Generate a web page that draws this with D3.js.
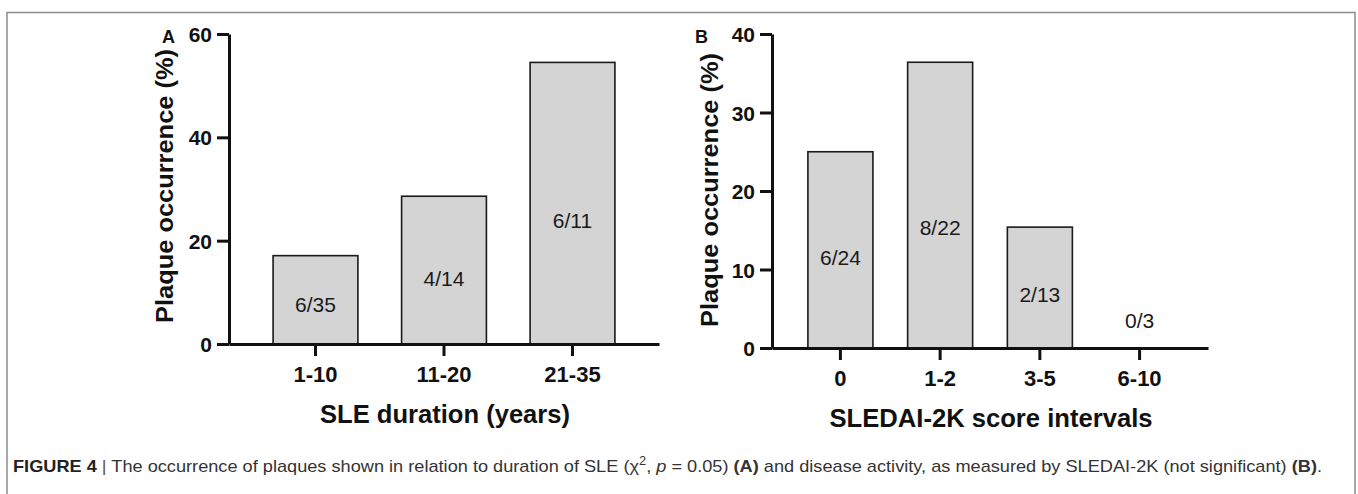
<!DOCTYPE html>
<html>
<head>
<meta charset="utf-8">
<script src="https://cdn.jsdelivr.net/npm/d3@7"></script>
<style>
  body { margin: 0; background: #fff; }
  svg { display: block; }
  text { font-family: "Liberation Sans", Arial, Helvetica, sans-serif; }
</style>
</head>
<body>
<svg width="1358" height="494"></svg>
<script>
// panel A: SLE duration
var groupsA = ["1-10", "11-20", "21-35"];
var occurrenceA = [17.1, 28.6, 54.5];
var countsA = ["6/35", "4/14", "6/11"];
var labelLevelA = [6.2, 11.2, 22.5];   // where the count label sits (% units)
var ticksA = [0, 20, 40, 60];

// panel B: SLEDAI-2K
var groupsB = ["0", "1-2", "3-5", "6-10"];
var occurrenceB = [25, 36.4, 15.4, 0];
var countsB = ["6/24", "8/22", "2/13", "0/3"];
var labelLevelB = [10.6, 14.4, 5.9, 2.5];
var ticksB = [0, 10, 20, 30, 40];

var svg = d3.select("svg");

// figure frame (open at the bottom)
svg.append("path")
  .attr("d", "M7,500 V12.5 H1355 V500")
  .attr("fill", "none")
  .attr("stroke", "#8c8c8c")
  .attr("stroke-width", 1.5);

function drawPanel(p) {
  var data = p.groups.map(function(g, i) {
    return { g: g, v: p.values[i], c: p.counts[i], l: p.levels[i] };
  });

  var x = d3.scaleBand()
    .domain(p.groups)
    .range([p.x0, p.x1])
    .paddingInner(p.pi)
    .paddingOuter(p.po);

  var y = d3.scaleLinear()
    .domain([0, d3.max(p.ticks)])
    .range([p.y0, p.y1]);

  var g = svg.append("g");

  // bars
  g.selectAll("rect.bar")
    .data(data.filter(function(d) { return d.v > 0; }))
    .enter().append("rect")
    .attr("class", "bar")
    .attr("x", function(d) { return x(d.g); })
    .attr("y", function(d) { return y(d.v); })
    .attr("width", x.bandwidth())
    .attr("height", function(d) { return y(0) - y(d.v); })
    .attr("fill", "#d4d4d4")
    .attr("stroke", "#1a1a1a")
    .attr("stroke-width", 1.6);

  // count labels
  g.selectAll("text.cnt")
    .data(data)
    .enter().append("text")
    .attr("class", "cnt")
    .attr("x", function(d) { return x(d.g) + x.bandwidth() / 2; })
    .attr("y", function(d) { return y(d.l); })
    .attr("text-anchor", "middle")
    .style("font-size", "21px")
    .style("fill", "#1a1a1a")
    .text(function(d) { return d.c; });

  // y axis
  var yAxis = g.append("g")
    .attr("transform", "translate(" + p.x0 + ",0)")
    .call(d3.axisLeft(y).tickValues(p.ticks).tickSize(12).tickPadding(5).tickSizeOuter(0));
  yAxis.select(".domain").attr("stroke", "#111").attr("stroke-width", 3);
  yAxis.selectAll(".tick line").attr("stroke", "#111").attr("stroke-width", 3);
  yAxis.selectAll(".tick text")
    .attr("dy", "0.36em")
    .style("font-size", "21px")
    .style("font-weight", "bold")
    .style("fill", "#111")
    .style("font-family", "'Liberation Sans', Arial, sans-serif");

  // x axis
  var xAxis = g.append("g")
    .attr("transform", "translate(0," + p.y0 + ")")
    .call(d3.axisBottom(x).tickSize(12).tickPadding(10).tickSizeOuter(0));
  xAxis.select(".domain").attr("stroke", "#111").attr("stroke-width", 3);
  xAxis.selectAll(".tick line").attr("stroke", "#111").attr("stroke-width", 3);
  xAxis.selectAll(".tick text")
    .style("font-size", "22px")
    .style("font-weight", "bold")
    .style("fill", "#111")
    .style("font-family", "'Liberation Sans', Arial, sans-serif");

  // panel letter
  g.append("text")
    .attr("x", p.letterX)
    .attr("y", 43)
    .style("font-size", "18px")
    .style("font-weight", "bold")
    .style("fill", "#111")
    .text(p.letter);

  // y title
  g.append("text")
    .attr("transform", "translate(" + p.yTitleX + "," + p.yTitleY + ") rotate(-90)")
    .attr("text-anchor", "middle")
    .attr("textLength", p.yTitleLen)
    .attr("lengthAdjust", "spacingAndGlyphs")
    .style("font-size", "24px")
    .style("font-weight", "bold")
    .style("fill", "#111")
    .text("Plaque occurrence (%)");

  // x title
  g.append("text")
    .attr("x", p.xTitleX)
    .attr("y", p.xTitleY)
    .attr("text-anchor", "middle")
    .attr("textLength", p.xTitleLen)
    .attr("lengthAdjust", "spacingAndGlyphs")
    .style("font-size", "25px")
    .style("font-weight", "bold")
    .style("fill", "#111")
    .text(p.xTitle);
}

drawPanel({
  groups: groupsA, values: occurrenceA, counts: countsA, levels: labelLevelA, ticks: ticksA,
  x0: 229, x1: 659, pi: 0.34, po: 0.343, y0: 344, y1: 34,
  letter: "A", letterX: 162,
  yTitleX: 173, yTitleY: 186, yTitleLen: 274,
  xTitle: "SLE duration (years)", xTitleX: 445, xTitleY: 423, xTitleLen: 250
});

drawPanel({
  groups: groupsB, values: occurrenceB, counts: countsB, levels: labelLevelB, ticks: ticksB,
  x0: 772, x1: 1208, pi: 0.348, po: 0.36, y0: 348, y1: 34,
  letter: "B", letterX: 695,
  yTitleX: 718, yTitleY: 190, yTitleLen: 274,
  xTitle: "SLEDAI-2K score intervals", xTitleX: 991, xTitleY: 427, xTitleLen: 323
});

// caption
var cap = svg.append("text")
  .attr("x", 13)
  .attr("y", 472)
  .attr("textLength", 1309)
  .attr("lengthAdjust", "spacingAndGlyphs")
  .style("font-size", "17px")
  .style("fill", "#333");
cap.append("tspan").style("font-weight", "bold").style("fill", "#222").text("FIGURE 4");
cap.append("tspan").style("fill", "#555").text(" | ");
cap.append("tspan").text("The occurrence of plaques shown in relation to duration of SLE (\u03C7");
cap.append("tspan").attr("dy", -7).style("font-size", "12px").text("2");
cap.append("tspan").attr("dy", 7).text(", ");
cap.append("tspan").style("font-style", "italic").text("p");
cap.append("tspan").text(" = 0.05) ");
cap.append("tspan").style("font-weight", "bold").text("(A)");
cap.append("tspan").text(" and disease activity, as measured by SLEDAI-2K (not significant) ");
cap.append("tspan").style("font-weight", "bold").text("(B)");
cap.append("tspan").text(".");
</script>
</body>
</html>
